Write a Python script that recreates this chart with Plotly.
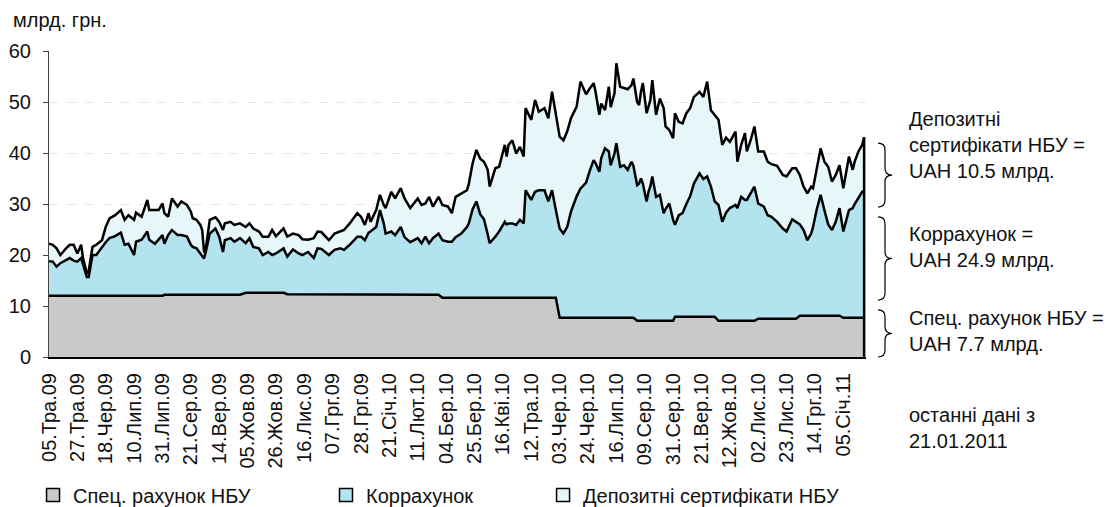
import plotly.graph_objects as go

# business-day index since 05.05.2009 (Ukrainian working days)
day_index = [
    0, 2, 4, 6, 9, 11, 13, 15, 17, 18,
    20, 21, 23, 25, 28, 30, 32, 35, 38, 40,
    42, 45, 46, 49, 52, 53, 56, 58, 60, 61,
    63, 65, 68, 70, 73, 75, 76, 78, 80, 81,
    82, 83, 85, 88, 90, 92, 93, 96, 98, 101,
    104, 106, 108, 111, 113, 116, 118, 120, 124, 126,
    129, 132, 134, 137, 140, 142, 144, 147, 148, 151,
    154, 156, 159, 163, 165, 167, 169, 170, 173, 175,
    177, 178, 181, 183, 186, 188, 191, 193, 195, 197,
    199, 201, 203, 206, 208, 211, 213, 215, 218, 221,
    222, 224, 226, 228, 230, 232, 233, 236, 238, 241,
    242, 243, 245, 247, 249, 251, 252, 255, 257, 259,
    262, 264, 266, 268, 270, 272, 274, 276, 279, 281,
    284, 286, 288, 289, 291, 292, 294, 296, 297, 299,
    300, 302, 304, 306, 308, 309, 311, 312, 313, 314,
    316, 317, 318, 319, 321, 323, 325, 326, 328, 330,
    331, 333, 335, 337, 339, 341, 344, 346, 348, 350,
    352, 354, 356, 358, 360, 363, 364, 366, 368, 369,
    371, 373, 375, 378, 380, 382, 385, 388, 390, 393,
    395, 397, 399, 401, 403, 404, 406, 408, 410, 412,
    414, 416, 418, 420, 423, 425, 426, 428, 430, 431,
]

spec_nbu = [
    12.0, 12.0, 12.0, 12.0, 12.0, 12.0, 12.0, 12.0, 12.0, 12.0,
    12.0, 12.0, 12.0, 12.0, 12.0, 12.0, 12.0, 12.0, 12.0, 12.0,
    12.0, 12.0, 12.0, 12.0, 12.0, 12.0, 12.0, 12.0, 12.0, 12.2,
    12.2, 12.2, 12.2, 12.2, 12.2, 12.2, 12.2, 12.2, 12.2, 12.2,
    12.2, 12.2, 12.2, 12.2, 12.2, 12.2, 12.2, 12.2, 12.2, 12.2,
    12.6, 12.6, 12.6, 12.6, 12.6, 12.6, 12.6, 12.6, 12.6, 12.3,
    12.3, 12.3, 12.3, 12.3, 12.3, 12.3, 12.3, 12.2, 12.2, 12.2,
    12.2, 12.2, 12.2, 12.2, 12.2, 12.2, 12.2, 12.2, 12.2, 12.2,
    12.2, 12.2, 12.2, 12.2, 12.2, 12.2, 12.2, 12.2, 12.2, 12.2,
    12.2, 12.2, 12.2, 12.2, 11.6, 11.6, 11.6, 11.6, 11.6, 11.6,
    11.6, 11.6, 11.6, 11.6, 11.6, 11.6, 11.6, 11.6, 11.6, 11.6,
    11.6, 11.6, 11.6, 11.6, 11.6, 11.6, 11.6, 11.6, 11.6, 11.6,
    11.6, 11.6, 11.6, 11.6, 7.7, 7.7, 7.7, 7.7, 7.7, 7.7,
    7.7, 7.7, 7.7, 7.7, 7.7, 7.7, 7.7, 7.7, 7.7, 7.7,
    7.7, 7.7, 7.7, 7.7, 7.7, 7.7, 7.1, 7.1, 7.1, 7.1,
    7.1, 7.1, 7.1, 7.1, 7.1, 7.1, 7.1, 7.1, 7.1, 7.1,
    7.9, 7.9, 7.9, 7.9, 7.9, 7.9, 7.9, 7.9, 7.9, 7.9,
    7.9, 7.1, 7.1, 7.1, 7.1, 7.1, 7.1, 7.1, 7.1, 7.1,
    7.1, 7.1, 7.5, 7.5, 7.5, 7.5, 7.5, 7.5, 7.5, 7.5,
    7.5, 8.1, 8.1, 8.1, 8.1, 8.1, 8.1, 8.1, 8.1, 8.1,
    8.1, 8.1, 8.1, 7.7, 7.7, 7.7, 7.7, 7.7, 7.7, 7.7,
]

korrahunok = [
    6.8, 6.7, 5.7, 6.4, 7.0, 7.4, 6.9, 6.7, 7.4, 6.0,
    3.7, 3.7, 8.0, 8.0, 9.6, 10.5, 11.3, 11.7, 12.4, 10.0,
    10.2, 8.0, 10.6, 11.0, 12.6, 11.0, 10.2, 11.0, 11.9, 10.0,
    11.7, 12.7, 11.7, 11.7, 11.4, 9.8, 9.4, 9.1, 8.1, 7.8,
    7.1, 8.6, 12.0, 13.0, 11.4, 8.4, 10.7, 11.1, 10.4, 11.1,
    9.7, 10.7, 9.0, 8.7, 7.4, 8.0, 7.4, 7.7, 8.7, 7.4,
    8.8, 8.0, 7.7, 8.3, 7.1, 9.0, 8.9, 8.1, 7.8, 8.8,
    9.1, 8.8, 9.8, 11.4, 11.4, 10.7, 12.2, 12.4, 13.3, 16.6,
    14.0, 12.0, 12.4, 11.7, 13.3, 11.3, 10.3, 10.7, 11.1, 10.1,
    11.4, 10.1, 11.1, 12.0, 11.3, 11.0, 11.0, 11.9, 12.6, 13.9,
    14.6, 17.4, 18.9, 16.4, 15.4, 12.4, 10.7, 12.0, 13.0, 14.9,
    14.4, 14.6, 14.6, 14.3, 15.3, 14.6, 21.1, 19.2, 20.8, 21.1,
    21.1, 18.9, 21.1, 17.2, 17.5, 16.5, 17.8, 20.8, 23.8, 25.3,
    26.5, 28.9, 30.9, 30.3, 28.6, 31.3, 33.2, 32.6, 29.9, 32.2,
    34.2, 29.6, 29.9, 29.0, 30.6, 29.8, 26.6, 26.9, 27.9, 26.9,
    23.4, 25.3, 26.4, 28.3, 24.3, 24.7, 21.1, 21.9, 23.0, 19.8,
    18.0, 19.9, 20.3, 22.1, 23.6, 26.1, 28.1, 27.0, 27.5, 25.5,
    22.6, 22.7, 19.4, 21.2, 22.1, 22.7, 22.1, 24.3, 23.7, 23.7,
    25.0, 26.3, 22.6, 22.0, 20.3, 20.0, 19.0, 17.7, 17.1, 19.5,
    19.0, 17.9, 16.8, 14.8, 16.1, 17.4, 20.9, 23.7, 20.7, 17.9,
    16.8, 18.4, 21.1, 16.9, 21.1, 21.5, 22.3, 23.5, 24.7, 24.9,
]

depozyt_sert = [
    3.4, 3.3, 3.6, 1.6, 2.3, 2.6, 3.1, 1.6, 2.6, 1.4,
    0.7, 1.2, 1.6, 2.0, 1.3, 3.0, 3.9, 4.1, 4.4, 4.9,
    5.6, 6.9, 5.7, 4.5, 6.2, 5.8, 6.6, 5.8, 6.2, 6.0,
    3.6, 6.2, 5.6, 6.6, 6.2, 6.5, 5.6, 5.6, 5.6, 4.9,
    1.2, 0.7, 2.7, 2.2, 2.9, 4.3, 3.3, 3.2, 3.3, 2.9,
    3.2, 2.9, 3.6, 3.3, 3.6, 3.0, 4.9, 3.4, 3.9, 3.9,
    3.1, 3.6, 3.1, 2.4, 3.9, 3.3, 3.3, 3.0, 2.9, 3.2,
    3.3, 3.9, 4.2, 4.6, 3.9, 3.0, 3.8, 1.9, 3.3, 3.0,
    3.6, 5.0, 7.8, 7.2, 7.6, 7.6, 6.7, 7.2, 7.8, 7.5,
    6.5, 9.1, 6.2, 7.2, 6.9, 6.9, 5.6, 7.9, 7.9, 7.2,
    7.8, 9.0, 10.1, 10.9, 11.3, 12.7, 11.1, 13.4, 12.7, 15.1,
    13.3, 15.4, 16.3, 14.0, 14.3, 13.1, 16.1, 15.7, 18.0, 15.4,
    16.1, 16.3, 19.3, 18.7, 18.0, 18.3, 18.7, 18.3, 17.6, 21.0,
    17.3, 16.1, 15.1, 14.0, 11.2, 10.7, 7.5, 12.7, 11.4, 11.8,
    15.7, 15.7, 15.2, 15.8, 15.0, 17.1, 16.3, 15.4, 17.0, 19.7,
    17.3, 16.6, 16.9, 18.9, 16.1, 18.9, 20.6, 16.2, 14.4, 16.0,
    21.9, 18.3, 17.6, 17.8, 17.3, 17.0, 16.0, 16.1, 18.6, 15.0,
    17.0, 16.7, 15.1, 14.7, 13.0, 14.4, 9.1, 10.2, 13.1, 9.5,
    10.4, 11.8, 10.2, 10.8, 10.5, 10.3, 11.0, 10.5, 10.8, 10.0,
    10.5, 9.7, 8.5, 9.2, 9.2, 7.6, 8.0, 9.1, 9.5, 11.3,
    9.5, 9.2, 8.4, 8.5, 10.5, 7.5, 8.3, 9.1, 9.2, 10.5,
]

tick_days = list(range(0, 421, 15))
tick_labels = [
    "05.Тра.09", "27.Тра.09", "18.Чер.09", "10.Лип.09", "31.Лип.09", "21.Сер.09",
    "14.Вер.09", "05.Жов.09", "26.Жов.09", "16.Лис.09", "07.Грг.09", "28.Грг.09",
    "21.Січ.10", "11.Лют.10", "04.Бер.10", "25.Бер.10", "16.Кві.10", "12.Тра.10",
    "03.Чер.10", "24.Чер.10", "16.Лип.10", "09.Сер.10", "31.Сер.10", "21.Вер.10",
    "12.Жов.10", "02.Лис.10", "23.Лис.10", "14.Грг.10", "05.Січ.11",
]

names = ["Спец. рахунок НБУ", "Коррахунок", "Депозитні сертифікати НБУ"]
colors = ["#C9C9C9", "#B3E3EE", "#E6F6F9"]
series = [spec_nbu, korrahunok, depozyt_sert]

assert len(day_index) == len(spec_nbu) == len(korrahunok) == len(depozyt_sert)

FONT = "Liberation Sans, Arial, sans-serif"
FS = 20
TXT = "#111"
fig = go.Figure()

for name, col, vals in zip(names, colors, series):
    fig.add_trace(go.Scatter(
        x=day_index, y=vals, name=name, stackgroup="one", mode="lines",
        line=dict(color="black", width=2.5), fillcolor=col, showlegend=False,
        hoverinfo="x+y+name",
    ))

# right edge border of the stacked area
last_total = spec_nbu[-1] + korrahunok[-1] + depozyt_sert[-1]
fig.add_trace(go.Scatter(
    x=[day_index[-1], day_index[-1]], y=[0, last_total], mode="lines",
    line=dict(color="black", width=2.5), showlegend=False, hoverinfo="skip",
))

# legend entries (square markers), each in its own legend for placement
legend_ids = ["legend", "legend2", "legend3"]
for name, col, lid in zip(names, colors, legend_ids):
    fig.add_trace(go.Scatter(
        x=[None], y=[None], mode="markers", name=name, legend=lid,
        marker=dict(symbol="square", size=13, color=col,
                    line=dict(color="black", width=1.5)),
    ))

leg_common = dict(orientation="h", xref="container", yref="container",
                  y=0.024, yanchor="middle", xanchor="left",
                  bgcolor="rgba(0,0,0,0)", font=dict(family=FONT, size=FS, color=TXT))

# page body adds an 8px margin, so the figure is 8px smaller than the window
fig.update_layout(
    width=1108, height=499,
    margin=dict(l=41, r=250, t=43, b=150, autoexpand=False),
    paper_bgcolor="white", plot_bgcolor="white",
    font=dict(family=FONT, size=FS, color=TXT),
    legend=dict(x=0.0226, **leg_common),
    legend2=dict(x=0.287, **leg_common),
    legend3=dict(x=0.4829, **leg_common),
    xaxis=dict(
        range=[0, 432], tickmode="array", tickvals=tick_days, ticktext=tick_labels,
        tickangle=-90, showline=True, linecolor="black", linewidth=2,
        showgrid=False, zeroline=False, ticks="", ticklabelstandoff=6,
        automargin=False, tickfont=dict(family=FONT, size=FS, color=TXT),
    ),
    yaxis=dict(
        range=[0, 60], dtick=10, showline=True, linecolor="#444", linewidth=1,
        ticks="outside", ticklen=5, tickcolor="#444", ticklabelstandoff=8,
        showgrid=True, gridcolor="#E6E6E6", griddash="dash", gridwidth=1,
        zeroline=False, automargin=False,
        tickfont=dict(family=FONT, size=FS, color=TXT),
    ),
    showlegend=True,
)

ann_font = dict(family=FONT, size=FS, color=TXT)
fig.add_annotation(text="млрд. грн.", xref="paper", yref="paper", x=-0.046, y=1.10,
                   xanchor="left", yanchor="middle", showarrow=False, font=ann_font)

right_notes = [
    ("Депозитні<br>сертифікати НБУ =<br>UAH 10.5 млрд.", 0.693),
    ("Коррахунок =<br>UAH 24.9 млрд.", 0.359),
    ("Спец. рахунок НБУ =<br>UAH 7.7 млрд.", 0.085),
    ("останні дані з<br>21.01.2011", -0.232),
]
for txt, yy in right_notes:
    fig.add_annotation(text=txt, xref="paper", yref="paper", x=1.050, y=yy,
                       xanchor="left", yanchor="middle", align="left",
                       showarrow=False, font=ann_font)


def brace_path(x0, x1, yt, yb, r=0.022):
    xm = (x0 + x1) / 2
    ym = (yt + yb) / 2
    return (f"M {x0},{yt} Q {xm},{yt} {xm},{yt - r} L {xm},{ym + r} "
            f"Q {xm},{ym} {x1},{ym} Q {xm},{ym} {xm},{ym - r} "
            f"L {xm},{yb + r} Q {xm},{yb} {x0},{yb}")


for yt, yb in [(0.699, 0.490), (0.458, 0.186), (0.154, 0.0)]:
    fig.add_shape(type="path", xref="paper", yref="paper",
                  path=brace_path(1.0147, 1.0318, yt, yb),
                  line=dict(color="black", width=1.2))

fig.write_html("out.html")
